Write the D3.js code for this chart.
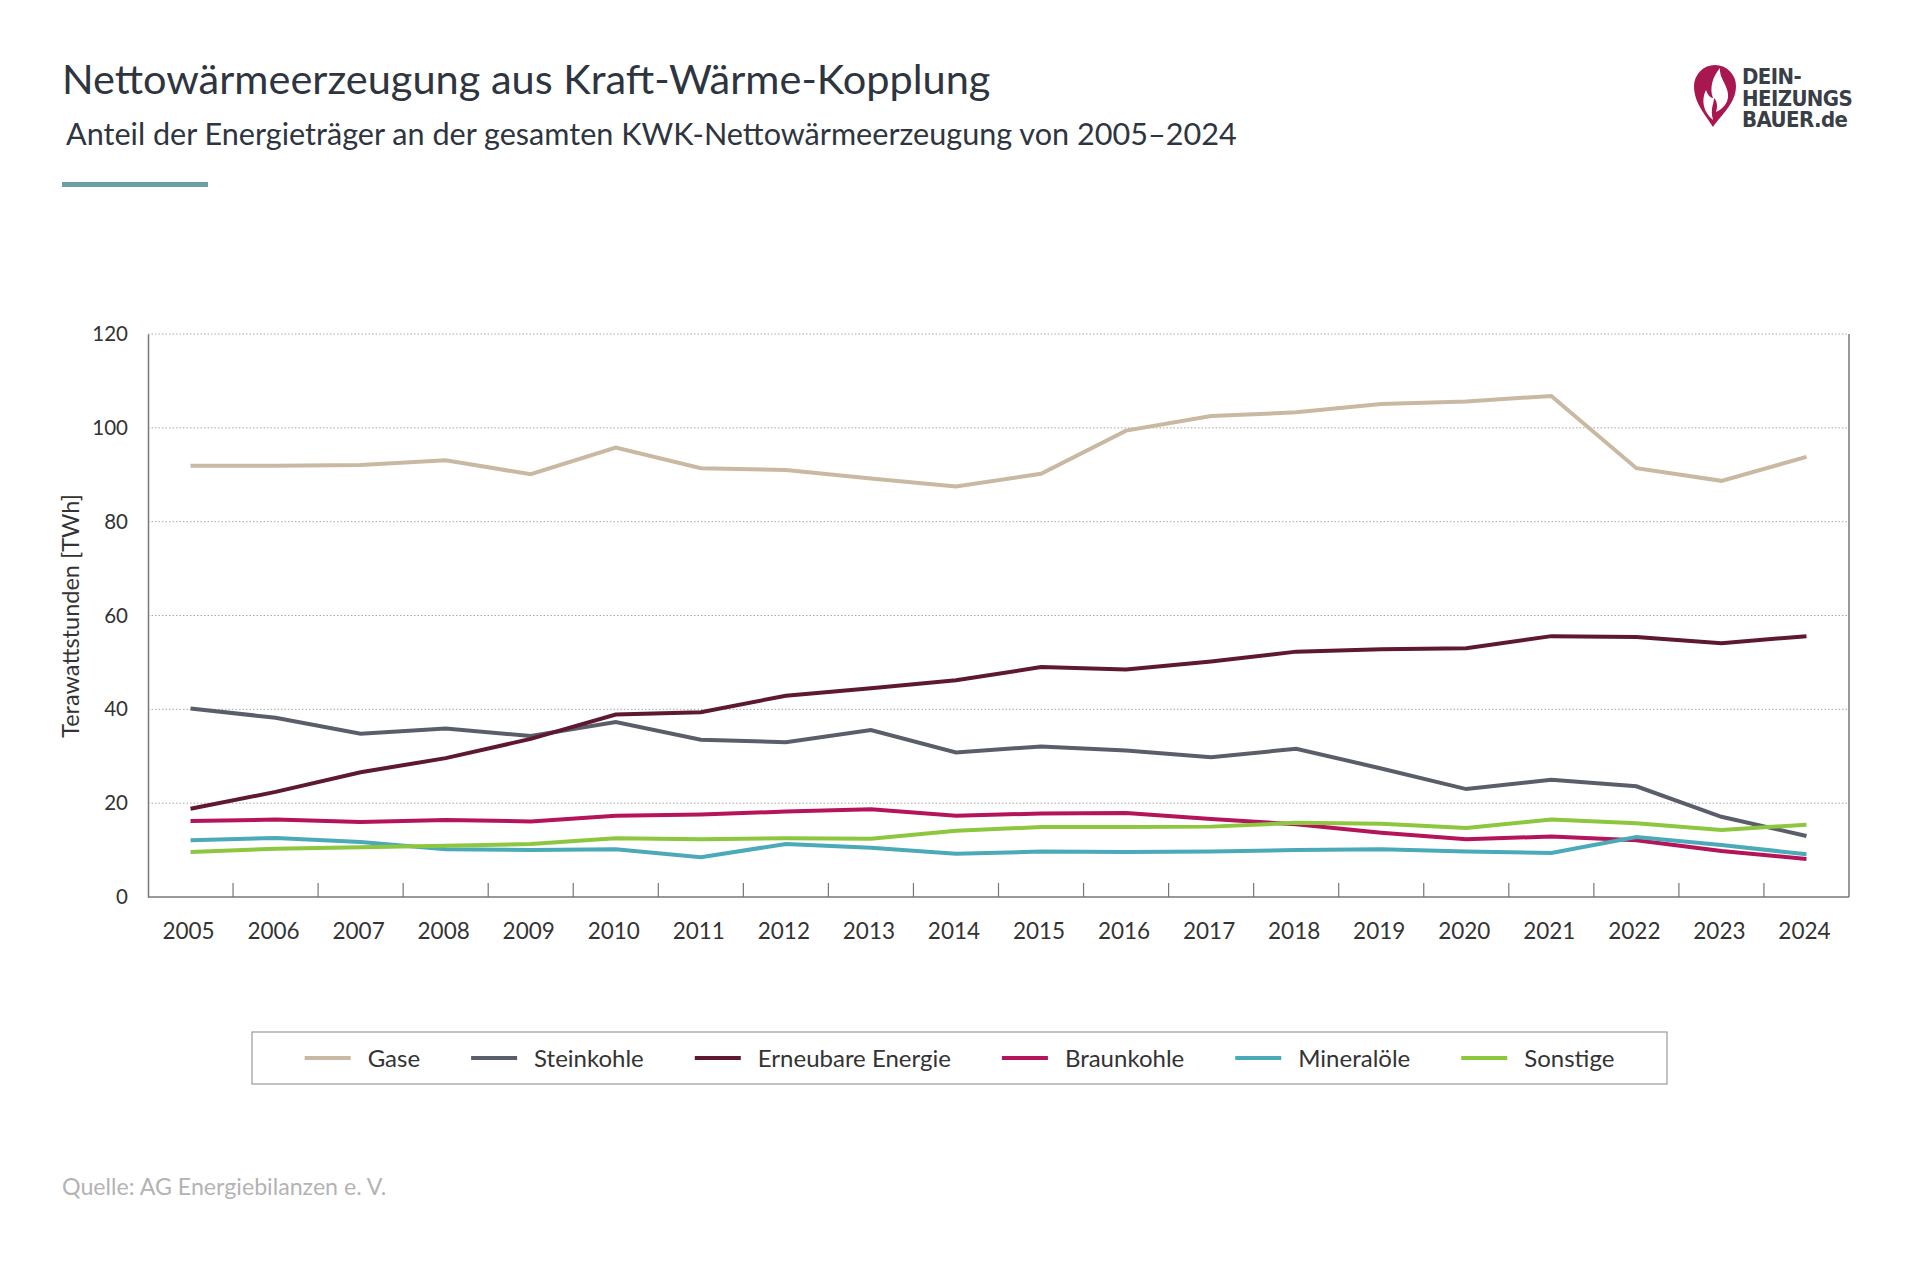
<!DOCTYPE html>
<html>
<head>
<meta charset="utf-8">
<script src="https://cdn.jsdelivr.net/npm/d3@7"></script>
<style>
  body { margin: 0; background: #fff; }
  text { font-family: Lato, "Open Sans", sans-serif; }
</style>
</head>
<body>
<div class="D3"></div>
<script>
var years = ["2005", "2006", "2007", "2008", "2009", "2010", "2011", "2012", "2013", "2014",
             "2015", "2016", "2017", "2018", "2019", "2020", "2021", "2022", "2023", "2024"];

var seriesNames = ["Gase", "Steinkohle", "Erneubare Energie", "Braunkohle", "Mineralöle", "Sonstige"];

var gase       = [91.9, 91.9, 92.1, 93.1, 90.1, 95.8, 91.4, 91.0, 89.2, 87.5, 90.2, 99.4, 102.5, 103.3, 105.1, 105.6, 106.8, 91.4, 88.7, 93.8];
var steinkohle = [40.2, 38.2, 34.8, 35.9, 34.3, 37.3, 33.5, 33.0, 35.6, 30.8, 32.1, 31.2, 29.8, 31.6, 27.4, 23.0, 25.0, 23.6, 17.1, 13.0];
var erneubare  = [18.8, 22.4, 26.6, 29.6, 33.7, 38.9, 39.4, 42.9, 44.5, 46.2, 49.0, 48.5, 50.2, 52.3, 52.8, 53.0, 55.6, 55.4, 54.1, 55.6];
var braunkohle = [16.2, 16.5, 16.0, 16.4, 16.1, 17.3, 17.6, 18.2, 18.7, 17.3, 17.8, 17.9, 16.6, 15.5, 13.7, 12.3, 12.9, 12.1, 9.8, 8.1];
var mineraloele = [12.1, 12.6, 11.7, 10.2, 10.0, 10.2, 8.5, 11.3, 10.5, 9.2, 9.7, 9.6, 9.7, 10.0, 10.2, 9.7, 9.4, 12.8, 11.1, 9.1];
var sonstige   = [9.6, 10.3, 10.6, 10.9, 11.3, 12.5, 12.3, 12.5, 12.4, 14.1, 14.9, 14.9, 15.0, 15.8, 15.6, 14.7, 16.5, 15.7, 14.3, 15.4];

var yTicks = [0, 20, 40, 60, 80, 100, 120];

var colors = ["#c9b8a2", "#595e69", "#5e1832", "#b3145a", "#4aaab7", "#8dc63f"];

var seriesValues = [gase, steinkohle, erneubare, braunkohle, mineraloele, sonstige];

var svgWidth = 1920;
var svgHeight = 1280;

var plot = { left: 148, right: 1849, top: 334, bottom: 897 };

var svg = d3.select(".D3")
  .append("svg")
  .attr("width", svgWidth)
  .attr("height", svgHeight);

// header
svg.append("text")
  .attr("x", 62)
  .attr("y", 94)
  .attr("fill", "#2e3540")
  .style("font-size", "41.5px")
  .text("Nettowärmeerzeugung aus Kraft-Wärme-Kopplung");

svg.append("text")
  .attr("x", 66)
  .attr("y", 145)
  .attr("fill", "#2e3540")
  .style("font-size", "30.6px")
  .text("Anteil der Energieträger an der gesamten KWK-Nettowärmeerzeugung von 2005–2024");

svg.append("rect")
  .attr("x", 62)
  .attr("y", 182)
  .attr("width", 146)
  .attr("height", 5)
  .attr("fill", "#6d9ea7");

// logo
var logo = svg.append("g");
logo.append("path")
  .attr("d", "M1713,127 C1705,114 1694,103 1694,86 A21,21 0 1 1 1736,86 C1736,103 1722,114 1713,127 Z")
  .attr("fill", "#a8174f");
logo.append("path")
  .attr("d", "M1713,120 C1703,112 1701,100 1706,90 C1708,96 1711,98 1713,98 C1709,88 1713,76 1720,68 C1719,78 1727,84 1728,94 C1729,104 1721,110 1716,112 C1718,106 1717,101 1714,98 C1714,104 1710,108 1713,120 Z")
  .attr("fill", "#ffffff");

var logoLines = ["DEIN-", "HEIZUNGS", "BAUER.de"];
logo.selectAll("text")
  .data(logoLines)
  .enter()
  .append("text")
  .attr("x", 1742)
  .attr("y", (d, i) => 84 + i * 21.5)
  .attr("fill", "#3a3f47")
  .style("font-family", "'DejaVu Sans Condensed', 'DejaVu Sans', sans-serif")
  .style("font-weight", "bold")
  .style("font-size", "22px")
  .style("letter-spacing", "-0.6px")
  .text(d => d);

// scales
var xBand = d3.scaleBand()
  .domain(years)
  .range([plot.left, plot.right])
  .padding(0);

var yLinearScale = d3.scaleLinear()
  .domain([0, 120])
  .range([plot.bottom, plot.top]);

// gridlines
svg.append("g")
  .selectAll("line")
  .data(yTicks.filter(d => d > 0))
  .enter()
  .append("line")
  .attr("x1", plot.left)
  .attr("x2", plot.right)
  .attr("y1", d => yLinearScale(d))
  .attr("y2", d => yLinearScale(d))
  .attr("stroke", "#a8a8a8")
  .attr("stroke-width", 1)
  .attr("stroke-dasharray", "1.5,2");

// y axis
var leftAxis = d3.axisLeft(yLinearScale)
  .tickValues(yTicks)
  .tickSize(0)
  .tickPadding(20);

var yAxis = svg.append("g")
  .attr("transform", `translate(${plot.left}, 0)`)
  .call(leftAxis);
yAxis.select(".domain").attr("stroke", "#777").attr("stroke-width", 1.5);
yAxis.selectAll("text")
  .style("font-size", "20.5px")
  .style("font-family", "Lato, sans-serif")
  .attr("fill", "#333");

// right border
svg.append("line")
  .attr("x1", plot.right)
  .attr("x2", plot.right)
  .attr("y1", plot.top)
  .attr("y2", plot.bottom)
  .attr("stroke", "#777")
  .attr("stroke-width", 1.5);

// x axis
svg.append("line")
  .attr("x1", plot.left)
  .attr("x2", plot.right)
  .attr("y1", plot.bottom)
  .attr("y2", plot.bottom)
  .attr("stroke", "#777")
  .attr("stroke-width", 1.5);

svg.append("g")
  .selectAll("line")
  .data(years.slice(1))
  .enter()
  .append("line")
  .attr("x1", d => xBand(d))
  .attr("x2", d => xBand(d))
  .attr("y1", plot.bottom)
  .attr("y2", plot.bottom - 14)
  .attr("stroke", "#777")
  .attr("stroke-width", 1.2);

svg.append("g")
  .selectAll("text")
  .data(years)
  .enter()
  .append("text")
  .attr("x", d => xBand(d) + xBand.bandwidth() / 2 - 2)
  .attr("y", 939)
  .attr("text-anchor", "middle")
  .attr("fill", "#333")
  .style("font-size", "22.5px")
  .text(d => d);

// y label
svg.append("text")
  .attr("transform", "translate(79, 616) rotate(-90)")
  .attr("text-anchor", "middle")
  .attr("fill", "#333")
  .style("font-size", "23.5px")
  .text("Terawattstunden [TWh]");

// lines
var line = d3.line()
  .x((d, i) => xBand(years[i]) + xBand.bandwidth() / 2)
  .y(d => yLinearScale(d));

svg.append("g")
  .selectAll("path")
  .data(seriesValues)
  .enter()
  .append("path")
  .attr("d", d => line(d))
  .attr("fill", "none")
  .attr("stroke", (d, i) => colors[i])
  .attr("stroke-width", 4)
  .attr("stroke-linejoin", "miter");

// legend
var legendBox = { x: 252, y: 1032, w: 1415, h: 52 };
svg.append("rect")
  .attr("x", legendBox.x)
  .attr("y", legendBox.y)
  .attr("width", legendBox.w)
  .attr("height", legendBox.h)
  .attr("fill", "none")
  .attr("stroke", "#9a9a9a")
  .attr("stroke-width", 1.2);

var legend = svg.append("g");
var items = legend.selectAll("g")
  .data(seriesNames)
  .enter()
  .append("g");

items.append("line")
  .attr("x1", 0)
  .attr("x2", 46)
  .attr("y1", 0)
  .attr("y2", 0)
  .attr("stroke", (d, i) => colors[i])
  .attr("stroke-width", 4);

items.append("text")
  .attr("x", 63)
  .attr("y", 8.5)
  .attr("fill", "#333")
  .style("font-size", "24px")
  .text(d => d);

var widths = [];
items.each(function () {
  widths.push(63 + d3.select(this).select("text").node().getComputedTextLength());
});
var gap = 51;
var total = d3.sum(widths) + gap * (widths.length - 1);
var cursor = legendBox.x + (legendBox.w - total) / 2;
items.attr("transform", function (d, i) {
  var t = `translate(${cursor}, ${legendBox.y + legendBox.h / 2})`;
  cursor += widths[i] + gap;
  return t;
});

// source
svg.append("text")
  .attr("x", 62)
  .attr("y", 1195)
  .attr("fill", "#b3b3b3")
  .style("font-size", "23.2px")
  .text("Quelle: AG Energiebilanzen e. V.");
</script>
</body>
</html>
